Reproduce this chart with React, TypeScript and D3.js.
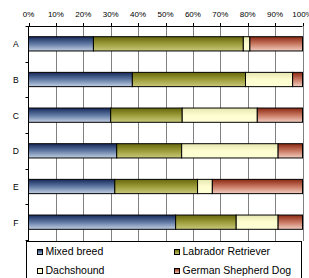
import React from "react";
import * as d3 from "d3";

const categories = ["A", "B", "C", "D", "E", "F"];
const seriesNames = ["Mixed breed", "Labrador Retriever", "Dachshound", "German Shepherd Dog"];
const mixed = [23.7, 37.9, 30.0, 32.2, 31.5, 53.7];
const labrador = [54.7, 41.3, 26.1, 23.7, 30.2, 22.1];
const dachshound = [2.4, 17.2, 27.4, 35.2, 5.4, 15.3];
const shepherd = [19.2, 3.6, 16.5, 8.9, 32.9, 8.9];
const ticks = [0, 10, 20, 30, 40, 50, 60, 70, 80, 90, 100];

const gradients = [
  { id: "g0", stops: ["#15295a", "#6079a3", "#c3d0e3"] },
  { id: "g1", stops: ["#66660c", "#9c9c3a", "#c9c97c"] },
  { id: "g2", stops: ["#e6e6b0", "#fdfdd0", "#ffffd6"] },
  { id: "g3", stops: ["#8a2812", "#c87862", "#f2cfc2"] },
];

const FONT = "Liberation Sans, Arial, sans-serif";

export default function App() {
  const W = 309;
  const H = 278;
  const left = 28.5;
  const right = 302.5;
  const top = 26;
  const bottom = 240;

  const x = d3.scaleLinear().domain([0, 100]).range([left, right]);
  const y = d3.scaleBand().domain(categories).range([top, bottom]).paddingInner(0.6).paddingOuter(0.3);
  const band = (bottom - top) / categories.length;

  const series = [mixed, labrador, dachshound, shepherd];
  const rows = categories.map((c, i) => ({ c, vals: series.map((s) => s[i]) }));
  const stack = d3
    .stack<any, any>()
    .keys([0, 1, 2, 3])
    .value((d, k) => d.vals[k])(rows as any);

  return (
    <svg width={W} height={H} style={{ position: "absolute", left: 0, top: 0, background: "#fff" }}>
      <defs>
        {gradients.map((g) => (
          <linearGradient key={g.id} id={g.id} x1="0" y1="0" x2="0" y2="1">
            <stop offset="0" stopColor={g.stops[0]} />
            <stop offset="0.5" stopColor={g.stops[1]} />
            <stop offset="1" stopColor={g.stops[2]} />
          </linearGradient>
        ))}
      </defs>
      {/* grid */}
      {ticks.slice(1).map((t) => (
        <line key={"g" + t} x1={Math.round(x(t)) + 0.5} x2={Math.round(x(t)) + 0.5} y1={top} y2={bottom + 1} stroke="#808080" strokeWidth={1} />
      ))}
      {/* top axis */}
      <line x1={left} x2={right} y1={top + 0.5} y2={top + 0.5} stroke="#000" />
      {ticks.map((t) => (
        <g key={"t" + t}>
          <line x1={Math.round(x(t)) + 0.5} x2={Math.round(x(t)) + 0.5} y1={top - 3} y2={top} stroke="#000" />
          <text x={x(t)} y={17.3} fontSize={8} fontFamily={FONT} textAnchor="middle" fill="#000">
            {t + "%"}
          </text>
        </g>
      ))}
      {/* left axis */}
      <line x1={left} x2={left} y1={top} y2={bottom + 1} stroke="#000" />
      {d3.range(categories.length + 1).map((k) => (
        <line key={"lt" + k} x1={left - 3} x2={left} y1={Math.round(top + k * band) + 0.5} y2={Math.round(top + k * band) + 0.5} stroke="#000" />
      ))}
      {categories.map((c) => (
        <text key={"c" + c} x={15.8} y={(y(c) as number) + y.bandwidth() / 2 + 3.5} fontSize={8.5} fontFamily={FONT} textAnchor="middle" fill="#000">
          {c}
        </text>
      ))}
      {/* bars */}
      {stack.map((layer, si) =>
        layer.map((d, i) => (
          <rect
            key={si + "-" + i}
            x={x(d[0])}
            y={y(categories[i])}
            width={x(d[1]) - x(d[0])}
            height={y.bandwidth()}
            fill={`url(#g${si})`}
            stroke="#000"
            strokeWidth={1}
          />
        ))
      )}
      {/* legend */}
      <rect x={26.5} y={241.5} width={275} height={45} fill="#fff" stroke="#000" />
      {seriesNames.map((n, i) => {
        const lx = i % 2 === 0 ? 37 : 174;
        const ly = i < 2 ? 255 : 274;
        return (
          <g key={n}>
            <rect x={lx + 0.5} y={ly - 5.5} width={5} height={5} fill={`url(#g${i})`} stroke="#000" />
            <text x={lx + 8.5} y={ly} fontSize={10.5} fontFamily={FONT} fill="#000">
              {n}
            </text>
          </g>
        );
      })}
    </svg>
  );
}
